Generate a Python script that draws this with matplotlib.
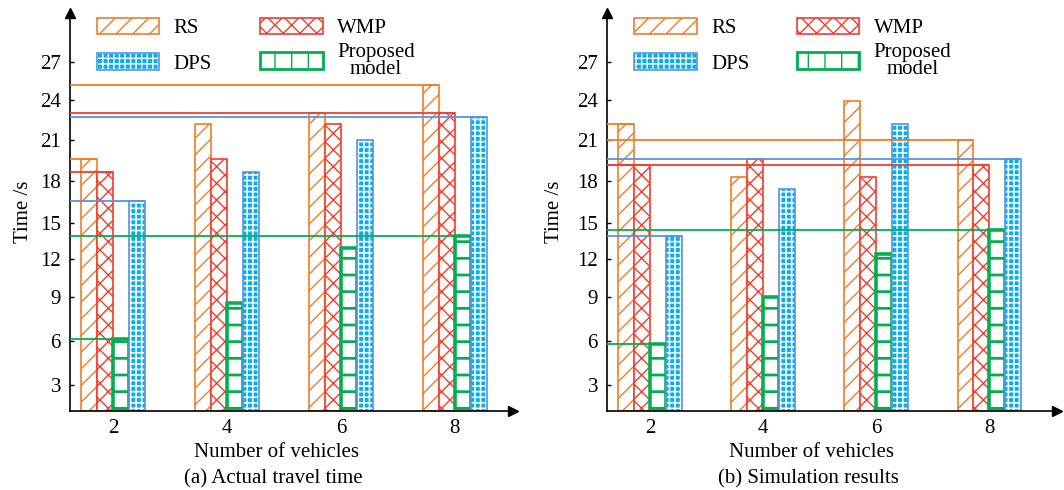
"""
plot.py - travel time vs number of vehicles, two panels (actual / simulation)
"""
import numpy as np
import matplotlib
matplotlib.use("Agg")
import matplotlib.pyplot as plt
from matplotlib.patches import Patch

plt.rcParams["font.family"] = ["Liberation Serif", "DejaVu Serif"]
plt.rcParams["hatch.linewidth"] = 1.0

# ─────────────────────────────────────────
# data
# ─────────────────────────────────────────
vehicles = [2, 4, 6, 8]
y_ticks = [3, 6, 9, 12, 15, 18, 21, 24, 27]

# (a) actual travel time
actual_rs   = [19.6, 22.2, 23.0, 25.2]
actual_wmp  = [18.7, 19.6, 22.2, 23.0]
actual_prop = [6.1, 8.6, 12.9, 13.9]
actual_dps  = [16.6, 18.7, 21.0, 22.7]

# (b) simulation results
sim_rs   = [22.2, 18.3, 23.9, 21.0]
sim_wmp  = [19.2, 19.6, 18.3, 19.2]
sim_prop = [5.8, 9.0, 12.4, 14.4]
sim_dps  = [13.9, 17.4, 22.2, 19.6]

# ─────────────────────────────────────────
# style
# ─────────────────────────────────────────
ORANGE   = "#F07D28"
RED      = "#F43C2E"
GREEN    = "#00B050"
BLUE_LN  = "#5B93DF"
BLUE_FIL = "#00B0F0"

# the original y axis is not evenly spaced near the bottom
SCALE_V = [1.3, 3, 6, 9, 12, 15, 18, 21, 24, 27, 31]
SCALE_P = [0, 25.4, 70, 113.4, 152, 188, 229.4, 270.7, 310.7, 348.7, 400]
Y0 = SCALE_V[0]


def _fwd(v):
    return np.interp(v, SCALE_V, SCALE_P)


def _inv(p):
    return np.interp(p, SCALE_P, SCALE_V)


FS = 15
W = 0.28
DPS_HATCH_LW = 1.15   # white grid over blue ~ checkerboard


def dps_bar(ax, xs, h):
    with plt.rc_context({"hatch.linewidth": DPS_HATCH_LW}):
        ax.bar(xs, h, W, bottom=Y0, facecolor=BLUE_FIL,
               edgecolor="white", hatch="+++", linewidth=0)
    ax.bar(xs, h, W, bottom=Y0, facecolor="none",
           edgecolor=BLUE_LN, linewidth=1.2)


def draw_panel(ax, rs, wmp, prop, dps, caption, xlim, ylab_x, lab_x, cap_x,
               col2_x):
    ax.set_yscale("function", functions=(_fwd, _inv))
    x = np.array(vehicles, float)

    order = [("RS", rs, ORANGE, "//", 1.2),
             ("WMP", wmp, RED, "xx", 1.2),
             ("Proposed model", prop, GREEN, "-", 2.6),
             ("DPS", dps, BLUE_LN, None, 1.2)]
    for k, (name, vals, col, hatch, lw) in enumerate(order):
        xs = x + (k - 1.5) * W
        h = np.array(vals) - Y0
        if name == "DPS":
            dps_bar(ax, xs, h)
        elif name == "Proposed model":
            with plt.rc_context({"hatch.linewidth": 2.0}):
                ax.bar(xs, h, W, bottom=Y0, facecolor="white",
                       edgecolor=col, hatch=hatch, linewidth=lw)
        else:
            ax.bar(xs, h, W, bottom=Y0, facecolor="white",
                   edgecolor=col, hatch=hatch, linewidth=lw)
        # guide lines from the axis to the first / last group
        for i in (0, -1):
            ax.hlines(vals[i], xlim[0], xs[i] + W / 2, color=col,
                      linewidth=1.3, zorder=3)

    ax.set_xlim(*xlim)
    ax.set_ylim(Y0, 30.8)
    ax.set_xticks(vehicles)
    ax.set_yticks(y_ticks)
    ax.tick_params(axis="y", direction="in", length=3, width=1,
                   pad=6.5, labelsize=FS)
    ax.tick_params(axis="x", length=0, pad=6, labelsize=FS)
    for s in ("top", "right"):
        ax.spines[s].set_visible(False)
    for s in ("left", "bottom"):
        ax.spines[s].set_linewidth(1.2)
    ax.plot(1, 0, ">", color="black", ms=7, transform=ax.transAxes,
            clip_on=False)
    ax.plot(0, 1, "^", color="black", ms=7, transform=ax.transAxes,
            clip_on=False)

    ax.set_ylabel("Time /s", fontsize=FS)
    ax.yaxis.set_label_coords(ylab_x, 0.5)
    ax.set_xlabel("Number of vehicles", fontsize=FS, va="center")
    ax.xaxis.set_label_coords(lab_x, -0.104)
    ax.text(cap_x, -0.171, caption, transform=ax.transAxes,
            ha="center", va="center", fontsize=FS)

    # legend: two columns drawn as two legends so rows line up like the original
    leg_kw = dict(loc="upper left", frameon=False, fontsize=FS,
                  handlelength=3.0, handleheight=0.85, handletextpad=0.7,
                  borderpad=0, borderaxespad=0)
    with plt.rc_context({"hatch.linewidth": DPS_HATCH_LW}):
        dps_fill = Patch(facecolor=BLUE_FIL, edgecolor="white", hatch="+++",
                         linewidth=0)
    h1 = [Patch(facecolor="white", edgecolor=ORANGE, hatch="//", linewidth=1.2),
          (dps_fill, Patch(facecolor="none", edgecolor=BLUE_LN, linewidth=1.2))]
    leg1 = ax.legend(h1, ["RS", "DPS"], bbox_to_anchor=(0.06, 0.988),
                     labelspacing=0.72, **leg_kw)
    ax.add_artist(leg1)
    with plt.rc_context({"hatch.linewidth": 2.0}):
        prop_patch = Patch(facecolor="white", edgecolor=GREEN, hatch="|",
                           linewidth=2.0)
    h2 = [Patch(facecolor="white", edgecolor=RED, hatch="xx", linewidth=1.2),
          prop_patch]
    leg2 = ax.legend(h2, ["WMP", "Proposed\nmodel"],
                     bbox_to_anchor=(col2_x, 0.988),
                     labelspacing=0.22, **leg_kw)
    for t in leg2.get_texts():
        t.set_multialignment("center")
        t.set_linespacing(0.85)


fig = plt.figure(figsize=(10.64, 4.9), dpi=100)
ax_a = fig.add_axes([0.0658, 0.1618, 0.4164, 0.8116])
ax_b = fig.add_axes([0.5705, 0.1618, 0.4229, 0.8116])

draw_panel(ax_a, actual_rs, actual_wmp, actual_prop, actual_dps,
           "(a) Actual travel time", (1.246, 9.02), -0.084, 0.465, 0.458,
           0.429)
draw_panel(ax_b, sim_rs, sim_wmp, sim_prop, sim_dps,
           "(b) Simulation results", (1.239, 9.2), -0.095, 0.455, 0.447,
           0.4216)

fig.savefig("out.png", dpi=100)
plt.close(fig)
